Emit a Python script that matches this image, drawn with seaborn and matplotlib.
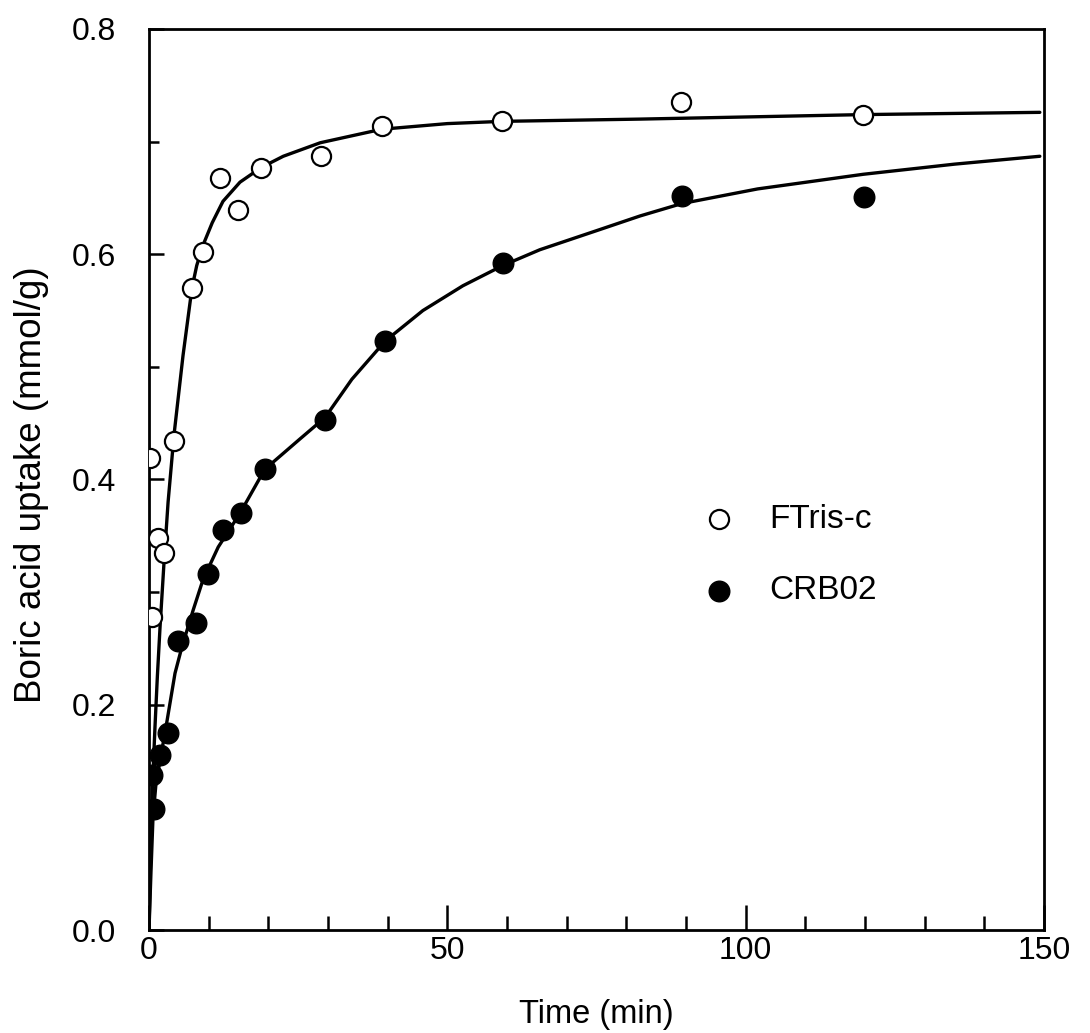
import matplotlib
matplotlib.use("Agg")
import matplotlib.pyplot as plt
import seaborn as sns
from matplotlib.ticker import MultipleLocator

# Measured uptake, FTris-c (open circles)
t_ftris = [0.2, 0.5, 1.5, 2.5, 4.2, 7.2, 9.05, 11.9, 14.9, 18.8, 28.8, 39.0, 59.2, 89.2, 119.7]
q_ftris = [0.419, 0.278, 0.348, 0.335, 0.434, 0.570, 0.602, 0.668, 0.639, 0.677, 0.687, 0.714, 0.718, 0.735, 0.724]

# Measured uptake, CRB02 (filled circles)
t_crb02 = [0.5, 0.84, 1.84, 3.2, 4.9, 7.9, 9.9, 12.4, 15.4, 19.4, 29.5, 39.6, 59.3, 89.3, 119.8]
q_crb02 = [0.138, 0.107, 0.155, 0.175, 0.257, 0.273, 0.316, 0.355, 0.370, 0.409, 0.453, 0.523, 0.592, 0.652, 0.651]

# Kinetic fit curves
fit_t_ftris = [0, 0.3, 0.6, 1.0, 1.4, 1.84, 2.5, 3.2, 4.2, 5.7, 6.5, 7.2, 8.0, 9.05, 10.6,
               12.4, 15.25, 18.8, 22.5, 28.7, 39.0, 50.0, 59.2, 82.3, 119.7, 149.3]
fit_q_ftris = [0, 0.07, 0.13, 0.18, 0.225, 0.268, 0.325, 0.38, 0.44, 0.51, 0.542, 0.570,
               0.590, 0.608, 0.628, 0.647, 0.664, 0.677, 0.687, 0.699, 0.711, 0.716, 0.718,
               0.720, 0.724, 0.726]

fit_t_crb02 = [0, 0.34, 0.67, 1.17, 1.84, 3.0, 4.36, 5.5, 7.4, 9.05, 11.6, 15.25, 19.4, 25.3,
               29.5, 34.0, 39.6, 45.9, 52.6, 59.3, 65.5, 75.6, 82.3, 89.3, 102.0, 119.7,
               135.0, 149.3]
fit_q_crb02 = [0, 0.053, 0.100, 0.130, 0.150, 0.185, 0.228, 0.251, 0.284, 0.311, 0.340, 0.370,
               0.409, 0.436, 0.455, 0.489, 0.523, 0.550, 0.572, 0.590, 0.604, 0.622, 0.634,
               0.645, 0.658, 0.671, 0.680, 0.687]

sns.set_theme(style="white")
plt.rcParams["font.family"] = ["Liberation Sans", "DejaVu Sans"]

fig = plt.figure(figsize=(10.9, 10.33), dpi=100)
ax = fig.add_axes([149 / 1090, 1 - 930 / 1033, 895 / 1090, 901 / 1033])

sns.lineplot(x=fit_t_ftris, y=fit_q_ftris, ax=ax, color="black", linewidth=2.4,
             estimator=None, sort=False, zorder=2)
sns.lineplot(x=fit_t_crb02, y=fit_q_crb02, ax=ax, color="black", linewidth=2.4,
             estimator=None, sort=False, zorder=2)

sns.scatterplot(x=t_ftris, y=q_ftris, ax=ax, marker="o", s=190, color="white",
                edgecolor="black", linewidth=1.6, zorder=3, label="FTris-c")
sns.scatterplot(x=t_crb02, y=q_crb02, ax=ax, marker="o", s=220, color="black",
                edgecolor="black", linewidth=1.0, zorder=3, label="CRB02")

ax.set_xlim(0, 150)
ax.set_ylim(0, 0.8)
ax.xaxis.set_major_locator(MultipleLocator(50))
ax.xaxis.set_minor_locator(MultipleLocator(10))
ax.yaxis.set_major_locator(MultipleLocator(0.2))
ax.yaxis.set_minor_locator(MultipleLocator(0.1))

for side in ["left", "right", "top", "bottom"]:
    ax.spines[side].set_visible(True)
    ax.spines[side].set_color("black")
    ax.spines[side].set_linewidth(2.0)

ax.tick_params(axis="both", which="both", direction="in", color="black", width=1.8,
               labelcolor="black", top=False, right=False, left=True, bottom=True)
ax.tick_params(axis="x", which="major", length=18, pad=4, labelsize=23)
ax.tick_params(axis="x", which="minor", length=10)
ax.tick_params(axis="y", which="major", length=11, pad=24, labelsize=23)
ax.tick_params(axis="y", which="minor", length=7)

ax.set_xlabel("Time (min)", fontsize=23.5, color="black")
ax.set_ylabel("Boric acid uptake (mmol/g)", fontsize=26.5, color="black")
ax.xaxis.set_label_coords(0.5, -0.077)
ax.yaxis.set_label_coords(-0.112, 0.494)

leg = ax.legend(loc="upper left", bbox_to_anchor=(0.620, 0.4730), frameon=False,
                fontsize=24, handlelength=0.9, handletextpad=1.05, labelspacing=1.22,
                borderpad=0, borderaxespad=0)
for txt in leg.get_texts():
    txt.set_color("black")

fig.savefig("out.png", dpi=100, facecolor="white")
